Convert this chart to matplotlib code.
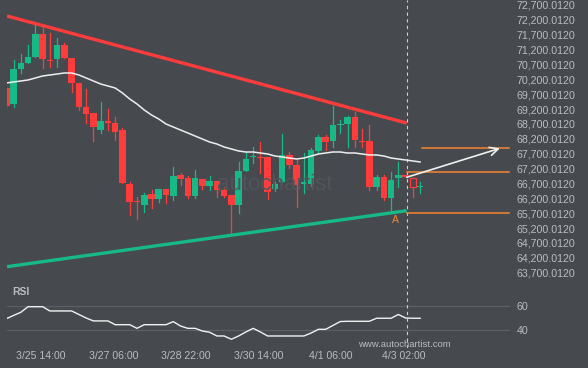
import matplotlib
matplotlib.use("Agg")
import matplotlib.pyplot as plt
from matplotlib.patches import Rectangle

# 4h candles (index 0 = first candle at left edge)
opens = [69909, 69372, 70548, 70750, 70952, 71725, 70851, 70884, 71355, 70918,
         70078, 69271, 69069, 68497, 68800, 68733, 68497, 66682, 66110, 65976,
         66346, 66178, 66514, 66279, 66985, 66884, 66279, 66850, 66615, 66783,
         66480, 66312, 65976, 67119, 67590, 67590, 67590, 66514, 66749, 67657,
         67321, 66682, 66682, 67791, 68262, 68128, 68666, 68699, 68935, 68128,
         68128, 66581, 66917, 66211, 66884, 66985, 66884, 66581]
highs = [69976, 70851, 71052, 71355, 72027, 71994, 71759, 71590, 71422, 70918,
         70078, 69876, 69069, 69439, 69203, 68935, 68565, 66749, 66245, 66379,
         66480, 66514, 66514, 67253, 67052, 66951, 67153, 66850, 66951, 66783,
         66581, 66312, 67422, 67758, 67926, 68094, 67590, 66749, 68363, 67758,
         67489, 67724, 67892, 68329, 68329, 69304, 68834, 68968, 69103, 68531,
         68666, 66985, 66985, 67085, 67422, 66985, 66884, 66749]
lows = [69237, 69271, 70414, 70750, 70952, 70582, 70615, 70615, 70918, 69775,
        69170, 68733, 68128, 68397, 68497, 68161, 66716, 65640, 65505, 65741,
        65875, 66077, 66043, 66144, 66648, 66211, 66211, 66514, 66480, 66245,
        66245, 64968, 65707, 67119, 67388, 67052, 66178, 66447, 66749, 67220,
        65909, 66379, 66615, 67724, 67825, 67926, 68397, 67926, 67926, 67926,
        66480, 66480, 66144, 65707, 66581, 66917, 66245, 66379]
closes = [69304, 70548, 70750, 70952, 71725, 70884, 70817, 71355, 70918, 70078,
          69271, 69035, 68598, 68800, 68733, 68430, 66716, 66077, 66077, 66312,
          66178, 66514, 66312, 66951, 66850, 66279, 66884, 66615, 66783, 66480,
          66279, 65976, 67119, 67522, 67623, 67556, 66413, 66682, 67657, 67321,
          66648, 66749, 67825, 68262, 68094, 68666, 68699, 68935, 68161, 68094,
          66581, 66917, 66211, 66816, 66985, 66917, 66581, 66598]

sma = [70078, 70111, 70145, 70179, 70246, 70313, 70347, 70380, 70414, 70414,
       70347, 70246, 70145, 70044, 69977, 69909, 69742, 69540, 69372, 69170,
       69002, 68867, 68699, 68598, 68497, 68397, 68296, 68195, 68094, 68027,
       67926, 67859, 67792, 67758, 67758, 67724, 67691, 67623, 67590, 67556,
       67522, 67556, 67623, 67691, 67724, 67758, 67758, 67724, 67724, 67691,
       67657, 67657, 67623, 67556, 67522, 67489, 67456, 67422]

rsi = [49.5, 52.2, 54.8, 59.4, 59.4, 59.4, 55.9, 55.9, 55.9, 55.9,
       53.0, 50.1, 47.7, 47.7, 47.7, 44.6, 44.6, 44.6, 41.6, 44.6,
       44.6, 44.6, 44.6, 47.1, 43.5, 41.6, 41.6, 39.4, 38.4, 35.3,
       35.3, 32.6, 35.3, 38.6, 41.6, 38.6, 35.3, 35.3, 35.3, 35.3,
       35.3, 35.3, 37.8, 40.8, 40.8, 44.0, 47.2, 47.4, 47.4, 47.4,
       47.4, 49.9, 49.9, 49.9, 53.0, 50.1, 49.9, 49.9]

# pattern: resistance / support lines (candle index, price)
res_x = [0.1, 55.15]
res_y = [72330, 68731]
sup_x = [0.1, 55.15]
sup_y = [63902, 65784]
pattern_end = 55.15
level_top = 67882
level_mid = 67075
level_low = 65697
arrow_from = (55.15, 66907)
arrow_to = (68.0, 67882)
point_a = (53.6, 65470)

price_ticks = list(range(63700, 72701, 500))
time_ticks = [4.75, 14.75, 24.75, 34.75, 44.75, 54.75]
time_labels = ["3/25 14:00", "3/27 06:00", "3/28 22:00", "3/30 14:00", "4/1 06:00", "4/3 02:00"]

BG = "#464a4f"
TXT = "#b9bcc1"
GREEN = "#17b987"
RED = "#fe3c3c"
ORANGE = "#f58632"
plt.rcParams["font.family"] = ["Liberation Sans", "DejaVu Sans"]

W, H = 588, 368
fig = plt.figure(figsize=(W / 100, H / 100), dpi=100, facecolor=BG)
ax = fig.add_axes([7 / W, (H - 282) / H, 503 / W, 282 / H])
ax2 = fig.add_axes([7 / W, (H - 348) / H, 503 / W, 64 / H])

xlim = ((7 - 6.3) / 7.26, (510 - 6.3) / 7.26)
for a in (ax, ax2):
    a.set_facecolor(BG)
    a.set_xlim(xlim)
    for s in a.spines.values():
        s.set_visible(False)
    a.axvline(pattern_end, color="#d0d0d0", lw=0.8, ls=(0, (3, 3)))

ax.set_ylim(63387, 72868)

# watermark (logo bars + name), drawn behind everything
wm = "#51555b"
logo = [(200, 167, 179), (206, 171, 176), (212, 164, 176), (218, 167, 174), (224, 165, 172), (231, 158, 167)]
for px, y0, y1 in logo:
    fig.add_artist(plt.Line2D([px / W, px / W], [1 - y0 / H, 1 - y1 / H], color=wm,
                              lw=3, solid_capstyle="round", zorder=0))
fig.text(217 / W, 1 - 185 / H, "autochartist", color=wm, fontsize=16,
         ha="left", va="center", zorder=0)

# candles
for i in range(len(opens)):
    o, h, l, c = opens[i], highs[i], lows[i], closes[i]
    col = GREEN if c >= o else RED
    ax.plot([i, i], [l, h], color=col, lw=0.9, zorder=2)
    bot = min(o, c)
    hgt = max(abs(c - o), 34)
    hollow = i == len(opens) - 2
    ax.add_patch(Rectangle((i - 0.45, bot), 0.9, hgt, facecolor=BG if hollow else col,
                           edgecolor=col, lw=0.8 if hollow else 0, zorder=3))

ax.plot(range(len(sma)), sma, color="#eeeeee", lw=1.1, zorder=4)

ax.plot(res_x, res_y, color=RED, lw=2.4, zorder=5, solid_capstyle="butt")
ax.plot(sup_x, sup_y, color=GREEN, lw=2.4, zorder=5, solid_capstyle="butt")

x_end = xlim[1] - 0.2
ax.plot([57.2, x_end], [level_top, level_top], color=ORANGE, lw=1.1, zorder=5)
ax.plot([pattern_end, x_end], [level_mid, level_mid], color=ORANGE, lw=1.1, zorder=5)
ax.plot([pattern_end, x_end], [level_low, level_low], color=ORANGE, lw=1.1, zorder=5)
ax.annotate("", xy=arrow_to, xytext=arrow_from,
            arrowprops=dict(arrowstyle="->,head_length=0.6,head_width=0.3",
                            color="#f0f0f0", lw=1.2, shrinkA=0, shrinkB=0), zorder=6)
ax.text(point_a[0], point_a[1], "A", color=ORANGE, fontsize=7.5, ha="center", va="center")

ax.yaxis.tick_right()
ax.set_yticks(price_ticks)
ax.set_yticklabels([f"{p:,}.0120" for p in price_ticks])
ax.tick_params(axis="y", length=0, pad=5, labelsize=7.7, labelcolor=TXT)
ax.set_xticks([])

# RSI panel
ax2.set_ylim(25.4, 78.1)
ax2.plot(range(len(rsi)), rsi, color="#f2f2f2", lw=1.0, zorder=3)
ax2.yaxis.tick_right()
ax2.set_yticks([40, 60])
ax2.grid(axis="y", color="#5c6066", lw=0.9)
ax2.set_xticks(time_ticks)
ax2.set_xticklabels(time_labels)
ax2.tick_params(axis="y", length=0, pad=5, labelsize=7.7, labelcolor=TXT)
ax2.tick_params(axis="x", length=0, pad=2.5, labelsize=7.6, labelcolor=TXT)
ax2.text(0.011, 0.88, "RSI", transform=ax2.transAxes, color=TXT, fontsize=7.5,
         fontweight="bold", va="center")
fig.text(404 / W, 1 - 344.3 / H, "www.autochartist.com", color=TXT, fontsize=6.8,
         ha="center", va="center")

fig.savefig("out.png", dpi=100, facecolor=BG)
